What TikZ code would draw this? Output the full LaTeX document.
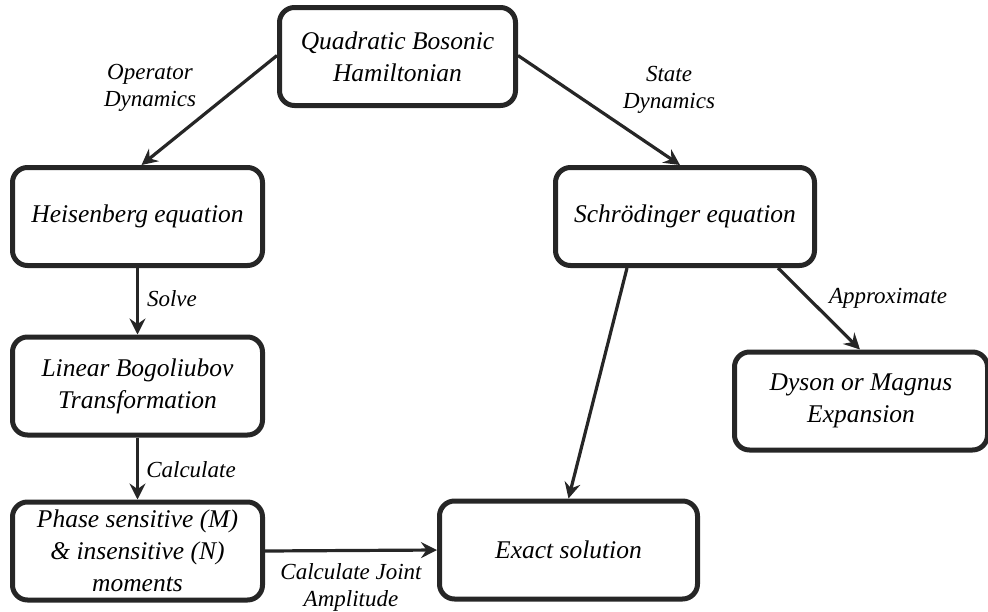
\documentclass[tikz,border=0pt]{standalone}
\usepackage{fontspec}
\setmainfont{LiberationSerif}[Extension=.ttf, UprightFont=*-Regular, ItalicFont=*-Italic, BoldFont=*-Bold, BoldItalicFont=*-BoldItalic]
\usetikzlibrary{arrows.meta}
\definecolor{ink}{HTML}{262626}
\begin{document}
\begin{tikzpicture}[x=1pt,y=-1pt,
  box/.style={draw=ink, line width=5pt, rounded corners=15pt, align=center,
    inner sep=0pt, minimum height=98pt,
    font=\fontsize{25.5}{32}\selectfont\itshape},
  arr/.style={draw=ink, line width=3.2pt, -{Stealth[length=16pt,width=16pt,inset=5.5pt]}},
  lab/.style={font=\fontsize{23}{27}\selectfont\itshape, align=center, inner sep=0pt}]
\useasboundingbox (0,0) rectangle (988,611);
\node[box, minimum width=236pt] (Q) at (397.5,56.5) {Quadratic Bosonic\\Hamiltonian};
\node[box, minimum width=250pt] (H) at (137.5,216.5) {Heisenberg equation};
\node[box, minimum width=259pt] (S) at (685,216.5) {Schrödinger equation};
\node[box, minimum width=250pt] (B) at (137.5,386) {Linear Bogoliubov\\Transformation};
\node[box, minimum width=250pt] (P) at (137.5,551) {Phase sensitive (M)\\\& insensitive (N)\\moments};
\node[box, minimum width=258pt] (E) at (568.5,550) {Exact solution};
\node[box, minimum width=253pt] (D) at (861,401) {Dyson or Magnus\\Expansion};

\draw[arr] ([yshift=1pt]Q.west) -- ([xshift=4pt]H.north);
\draw[arr] ([yshift=1pt]Q.east) -- ([xshift=-5pt]S.north);
\draw[arr] (H.south) -- (B.north);
\draw[arr] (B.south) -- (P.north);
\draw[arr] (P.east) -- (E.west);
\draw[arr] ([xshift=-58pt]S.south) -- (E.north);
\draw[arr] ([xshift=93pt]S.south) -- ([xshift=-1pt]D.north);

\node[lab] (l1) at (150,88) {Operator\\Dynamics};
\node[lab] (l2) at (669,90) {State\\Dynamics};
\node[lab] (l3) at (172,299) {Solve};
\node[lab] (l4) at (191,470) {Calculate};
\node[lab] (l5) at (351,587) {Calculate Joint\\Amplitude};
\node[lab] (l6) at (888,298) {Approximate};
\end{tikzpicture}
\end{document}
